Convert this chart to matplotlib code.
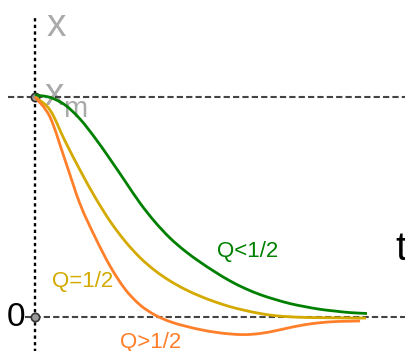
import matplotlib
matplotlib.use("Agg")
import matplotlib.pyplot as plt
from matplotlib.path import Path
from matplotlib.patches import PathPatch

plt.rcParams['font.family'] = ['Liberation Sans', 'DejaVu Sans']

# Q < 1/2 (overdamped)
t_green = [0, 1, 2, 3, 4, 5, 6, 7, 8, 9, 10, 11, 12, 13, 14, 15, 16, 17, 18, 19, 20, 21, 22.13]
x_green = [1.009, 0.998, 0.964, 0.900, 0.814, 0.718, 0.618, 0.518, 0.432, 0.359, 0.300, 0.250,
           0.205, 0.164, 0.130, 0.102, 0.080, 0.061, 0.047, 0.035, 0.027, 0.020, 0.016]

# Q = 1/2 (critically damped)
t_yellow = [0, 1, 2, 3, 4, 5, 6, 7, 8, 9, 10, 11, 12, 13, 14, 15, 16, 17, 18, 19, 22.07]
x_yellow = [1.0, 0.941, 0.800, 0.668, 0.545, 0.436, 0.345, 0.270, 0.211, 0.164, 0.126, 0.095,
            0.069, 0.047, 0.030, 0.016, 0.006, 0.001, -0.002, -0.003, -0.005]

# Q > 1/2 (underdamped)
t_orange = [0, 1, 2, 3, 4, 5, 6, 7, 8, 9, 10, 11, 12, 13, 14, 15, 16, 17, 18, 19, 20, 21, 21.67]
x_orange = [1.0, 0.909, 0.714, 0.514, 0.364, 0.232, 0.127, 0.055, 0.009, -0.021, -0.041, -0.057,
            -0.069, -0.077, -0.080, -0.075, -0.063, -0.048, -0.035, -0.026, -0.021, -0.019, -0.018]

labels = ["Q<1/2", "Q=1/2", "Q>1/2"]
colors = ["#008000", "#d4aa00", "#ff7f2a"]


def smooth_path(ts, xs):
    """Catmull-Rom curve through the points, drawn as cubic Bezier segments."""
    pts = list(zip(ts, xs))
    verts = [pts[0]]
    codes = [Path.MOVETO]
    n = len(pts)
    for i in range(n - 1):
        p0 = pts[i - 1] if i > 0 else pts[i]
        p1 = pts[i]
        p2 = pts[i + 1]
        p3 = pts[i + 2] if i + 2 < n else pts[i + 1]
        c1 = (p1[0] + (p2[0] - p0[0]) / 6, p1[1] + (p2[1] - p0[1]) / 6)
        c2 = (p2[0] - (p3[0] - p1[0]) / 6, p2[1] - (p3[1] - p1[1]) / 6)
        verts += [c1, c2, p2]
        codes += [Path.CURVE4] * 3
    return Path(verts, codes)


fig = plt.figure(figsize=(4.06, 3.51), dpi=100)
ax = fig.add_axes([0, 0, 1, 1])
ax.set_xlim(-35 / 15, 371 / 15)
ax.set_ylim(-34 / 220, 317 / 220)
ax.axis('off')

# reference lines
ax.plot([-27 / 15, 371 / 15], [1, 1], color='#444444', lw=1.5,
        linestyle=(0, (3, 1.5)), zorder=1)
ax.plot([-10 / 15, 371 / 15], [0, 0], color='#444444', lw=1.5,
        linestyle=(0, (3, 1.5)), zorder=1)
ax.plot([0, 0], [-0.2, 302 / 220], color='black', lw=1.7,
        linestyle=(0, (1.4, 1.4)), zorder=1)
ax.plot([0, 0], [1, 0], 'o', ms=6, mfc='#999999', mec='#333333', mew=1.2, zorder=2)

# curves
for ts, xs, c in [(t_green, x_green, colors[0]),
                  (t_yellow, x_yellow, colors[1]),
                  (t_orange, x_orange, colors[2])]:
    ax.add_patch(PathPatch(smooth_path(ts, xs), facecolor='none', edgecolor=c,
                           lw=2.0, zorder=3, capstyle='butt'))

# labels
ax.text(12.13, 0.273, labels[0], color=colors[0], fontsize=16, ha='left', va='baseline')
ax.text(1.13, 0.136, labels[1], color=colors[1], fontsize=16, ha='left', va='baseline')
ax.text(5.67, -0.140, labels[2], color=colors[2], fontsize=16, ha='left', va='baseline')

ax.text(0.80, 1.277, "x", color='#aaaaaa', fontsize=28, ha='left', va='baseline', zorder=0)
ax.text(0.67, 0.964, "x", color='#aaaaaa', fontsize=28, ha='left', va='baseline', zorder=0)
ax.text(1.87, 0.909, "m", color='#aaaaaa', fontsize=21, ha='left', va='baseline', zorder=0)
ax.text(24.0, 0.259, "t", color='black', fontsize=29, ha='left', va='baseline')
ax.text(-0.67, 0.0, "0", color='black', fontsize=24, ha='right', va='center')

fig.savefig("out.png", dpi=100)
